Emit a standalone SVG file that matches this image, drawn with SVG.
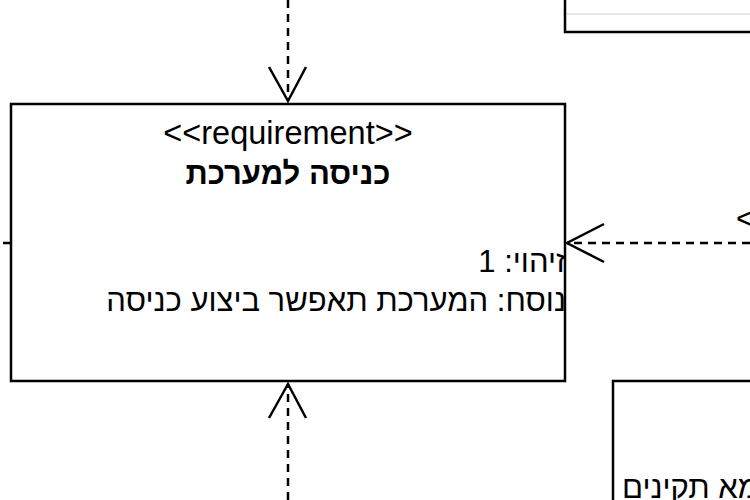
<svg xmlns="http://www.w3.org/2000/svg" width="750" height="500" viewBox="0 0 750 500">
<style>
.box{fill:#fff;stroke:#000;stroke-width:2.5}
.t{font-family:"Liberation Sans",Arial,sans-serif;font-size:31px;fill:#000}
.b{font-weight:bold}
.dash{fill:none;stroke:#000;stroke-width:2.5;stroke-dasharray:8 6}
.head{fill:none;stroke:#000;stroke-width:2.5}
</style>
<rect width="750" height="500" fill="#fff"/>
<g id="connectors">
<line class="dash" x1="288" y1="0" x2="288" y2="101"/>
<polyline class="head" points="269,67 288,101 306,67"/>
<line class="dash" x1="288" y1="500" x2="288" y2="384"/>
<polyline class="head" points="269,418 288,384 306,418"/>
<line class="dash" x1="750" y1="243" x2="567" y2="243"/>
<polyline class="head" points="604,224 567,243 604,262"/>
<text class="t" x="736" y="229">&lt;</text>
<line class="head" x1="3" y1="243" x2="11" y2="243"/>
</g>
<g id="node-top-right">
<rect class="box" x="565" y="-20" width="200" height="52"/>
<line x1="567" y1="14" x2="750" y2="14" stroke="#e6e6e6" stroke-width="2"/>
</g>
<g id="node-main">
<rect class="box" x="11" y="104" width="554" height="277"/>
<text class="t" x="288" y="144" text-anchor="middle" style="font-size:32.5px">&lt;&lt;requirement&gt;&gt;</text>
<text class="t b" x="288" y="184" text-anchor="middle" direction="rtl">כניסה למערכת</text>
<text class="t" x="566" y="272" direction="rtl" text-anchor="start">זיהוי: 1</text>
<text class="t" x="566" y="311" direction="rtl" text-anchor="start">נוסח: המערכת תאפשר ביצוע כניסה</text>
</g>
<g id="node-bottom-right">
<rect class="box" x="613" y="381" width="160" height="140"/>
<text class="t" x="622" y="498" direction="rtl" text-anchor="end">מא תקינים</text>
</g>
</svg>
